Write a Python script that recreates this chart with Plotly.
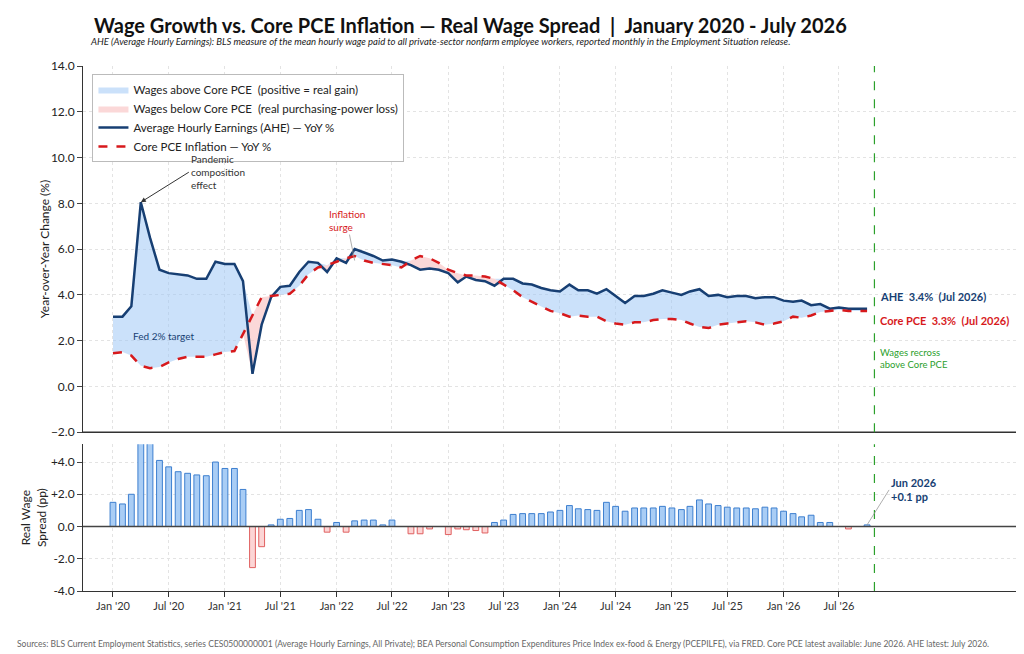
import pandas as pd
import plotly.graph_objects as go
from plotly.subplots import make_subplots

MONTHS = pd.date_range("2020-01-01", periods=82, freq="MS")

AHE = [3.05, 3.05, 3.5, 8.05, 6.5, 5.1, 4.95, 4.9, 4.85, 4.7,
       4.7, 5.45, 5.35, 5.35, 4.6, 0.55, 2.7, 3.9, 4.35, 4.4,
       5.0, 5.45, 5.4, 5.0, 5.6, 5.4, 6.0, 5.85, 5.7, 5.5,
       5.55, 5.45, 5.3, 5.1, 5.15, 5.1, 4.95, 4.55, 4.8, 4.65,
       4.6, 4.4, 4.7, 4.7, 4.5, 4.45, 4.3, 4.2, 4.15, 4.45,
       4.2, 4.2, 4.05, 4.25, 3.95, 3.65, 3.95, 3.95, 4.05, 4.2,
       4.1, 4.0, 4.15, 4.25, 3.95, 4.0, 3.9, 3.95, 3.95, 3.85,
       3.9, 3.9, 3.75, 3.7, 3.75, 3.55, 3.6, 3.4, 3.45, 3.4,
       3.4, 3.4]

PCE = [1.45, 1.5, 1.35, 0.9, 0.8, 0.85, 1.05, 1.2, 1.3, 1.3,
       1.3, 1.4, 1.5, 1.55, 2.3, 3.1, 3.9, 3.95, 4.0, 4.05,
       4.4, 4.9, 5.2, 5.3, 5.45, 5.6, 5.7, 5.5, 5.4, 5.35,
       5.3, 5.2, 5.5, 5.7, 5.6, 5.4, 5.1, 4.95, 4.85, 4.85,
       4.8, 4.7, 4.45, 4.2, 3.9, 3.7, 3.5, 3.3, 3.2, 3.05,
       3.1, 3.05, 3.05, 2.85, 2.75, 2.7, 2.8, 2.8, 2.9, 2.95,
       2.95, 2.9, 2.75, 2.6, 2.55, 2.7, 2.75, 2.8, 2.85, 2.8,
       2.7, 2.75, 2.85, 3.05, 3.0, 3.1, 3.25, 3.3, 3.35, 3.3,
       3.3, 3.3]

SPREAD = [1.5, 1.4, 2.0, 7.1, 5.7, 4.1, 3.7, 3.4, 3.3, 3.2,
          3.15, 4.0, 3.6, 3.6, 2.3, -2.55, -1.25, 0.1, 0.45, 0.5,
          1.0, 1.05, 0.45, -0.35, 0.25, -0.35, 0.35, 0.4, 0.4, 0.1,
          0.4, 0.0, -0.45, -0.45, -0.15, 0.0, -0.5, -0.15, -0.2, -0.25,
          -0.4, 0.25, 0.4, 0.75, 0.8, 0.8, 0.8, 0.9, 1.0, 1.3,
          1.1, 1.05, 1.0, 1.5, 1.25, 0.95, 1.15, 1.15, 1.15, 1.25,
          1.15, 1.05, 1.25, 1.65, 1.4, 1.3, 1.2, 1.15, 1.15, 1.1,
          1.2, 1.15, 0.95, 0.8, 0.6, 0.7, 0.25, 0.25, 0.0, -0.15,
          0.0, 0.1]

X_TICKS = pd.date_range("2020-01-01", "2026-07-01", freq="6MS")
MAIN_TICKS = [-2, 0, 2, 4, 6, 8, 10, 12, 14]
SPREAD_TICKS = [-4, -2, 0, 2, 4]
SPREAD_LABELS = ["-4.0", "-2.0", "0.0", "+2.0", "+4.0"]

NAVY = "#173f73"
RED = "#d7191c"
BLUE_FILL = "rgba(160,200,245,0.55)"
PINK_FILL = "rgba(248,190,190,0.6)"
FONT = "Lato"

upper = [max(a, p) for a, p in zip(AHE, PCE)]
lower = [min(a, p) for a, p in zip(AHE, PCE)]

fig = make_subplots(rows=2, cols=1, shared_xaxes=True, row_heights=[0.714, 0.286],
                    vertical_spacing=0.023)

fig.add_trace(go.Scatter(x=MONTHS, y=PCE, mode="lines", line=dict(width=0),
                         showlegend=False, hoverinfo="skip"), row=1, col=1)
fig.add_trace(go.Scatter(x=MONTHS, y=upper, mode="lines", line=dict(width=0),
                         fill="tonexty", fillcolor=BLUE_FILL,
                         name="Wages above Core PCE  (positive = real gain)"), row=1, col=1)
fig.add_trace(go.Scatter(x=MONTHS, y=PCE, mode="lines", line=dict(width=0),
                         showlegend=False, hoverinfo="skip"), row=1, col=1)
fig.add_trace(go.Scatter(x=MONTHS, y=lower, mode="lines", line=dict(width=0),
                         fill="tonexty", fillcolor=PINK_FILL,
                         name="Wages below Core PCE  (real purchasing-power loss)"), row=1, col=1)
fig.add_trace(go.Scatter(x=MONTHS, y=AHE, mode="lines", line=dict(color=NAVY, width=2.5),
                         name="Average Hourly Earnings (AHE) — YoY %"), row=1, col=1)
fig.add_trace(go.Scatter(x=MONTHS, y=PCE, mode="lines",
                         line=dict(color=RED, width=2.5, dash="dash"),
                         name="Core PCE Inflation — YoY %"), row=1, col=1)

bar_fill = ["#a9cdf5" if v >= 0 else "#fcd5d5" for v in SPREAD]
bar_line = ["#3d7fcf" if v >= 0 else "#e06060" for v in SPREAD]
fig.add_trace(go.Bar(x=MONTHS, y=SPREAD, marker=dict(color=bar_fill, line=dict(color=bar_line, width=1)),
                     width=1000 * 3600 * 24 * 19, showlegend=False), row=2, col=1)

grid = dict(showgrid=True, gridcolor="#e3e3e3", griddash="dot", zeroline=False)
xrange = ["2019-09-25", "2028-03-10"]
fig.update_xaxes(range=xrange, tickvals=X_TICKS, tickformat="%b '%y",
                 showline=True, linecolor="#333", ticks="outside", tickcolor="#333",
                 tickfont=dict(size=11, color="#333"), **grid)
fig.update_xaxes(showticklabels=False, ticks="", row=1, col=1)
fig.update_yaxes(range=[-2, 14], tickvals=MAIN_TICKS, ticksuffix="%", tickformat=".1f",
                 showline=True, linecolor="#333", ticks="outside",
                 title=dict(text="Year-over-Year Change (%)", font=dict(size=12)),
                 tickfont=dict(size=12), row=1, col=1, **grid)
fig.update_yaxes(range=[-4, 5.1], tickvals=SPREAD_TICKS, ticktext=SPREAD_LABELS,
                 showline=True, linecolor="#333", ticks="outside",
                 title=dict(text="Real Wage<br>Spread (pp)", font=dict(size=12)),
                 tickfont=dict(size=12), row=2, col=1, **grid)

fig.add_hline(y=0, line=dict(color="#444", width=1.5), row=2, col=1)
fig.add_hline(y=-2, line=dict(color="#333", width=1.5), row=1, col=1)
for r in (1, 2):
    fig.add_vline(x="2026-10-25", line=dict(color="#2ca02c", width=1.2, dash="dash"), row=r, col=1)

fig.add_annotation(x="2020-04-01", y=8.05, ax=48, ay=-30, text="Pandemic<br>composition<br>effect",
                   showarrow=True, arrowhead=2, arrowsize=1, arrowwidth=1, arrowcolor="#333",
                   xanchor="left", font=dict(size=10, color="#333"), align="left", row=1, col=1)
fig.add_annotation(x="2022-03-01", y=5.5, ax=-8, ay=-40, text="Inflation<br>surge",
                   showarrow=True, arrowhead=0, arrowwidth=0.8, arrowcolor="#999",
                   font=dict(size=10, color=RED), align="left", row=1, col=1)
fig.add_annotation(x="2020-03-01", y=2.2, text="Fed 2% target", showarrow=False,
                   xanchor="left", font=dict(size=10, color=NAVY), row=1, col=1)
fig.add_annotation(x="2026-11-05", y=3.95, text="<b>AHE  3.4%  (Jul 2026)</b>", showarrow=False,
                   xanchor="left", font=dict(size=11, color=NAVY), row=1, col=1)
fig.add_annotation(x="2026-11-05", y=2.9, text="<b>Core PCE  3.3%  (Jul 2026)</b>", showarrow=False,
                   xanchor="left", font=dict(size=11, color=RED), row=1, col=1)
fig.add_annotation(x="2026-11-05", y=1.2, text="Wages recross<br>above Core PCE", showarrow=False,
                   xanchor="left", align="left", font=dict(size=9.5, color="#2ca02c"), row=1, col=1)
fig.add_annotation(x="2026-10-01", y=0.1, ax=22, ay=-35, text="<b>Jun 2026<br>+0.1 pp</b>",
                   showarrow=True, arrowhead=0, arrowwidth=0.8, arrowcolor="#999", xanchor="left",
                   align="left", font=dict(size=11, color=NAVY), row=2, col=1)

fig.add_annotation(xref="paper", yref="paper", x=0.01, y=1.078, xanchor="left", yanchor="middle",
                   showarrow=False,
                   text="<b>Wage Growth vs. Core PCE Inflation — Real Wage Spread  |  January 2020 - July 2026</b>",
                   font=dict(size=20, color="#111"))
fig.add_annotation(xref="paper", yref="paper", x=0.005, y=1.046, xanchor="left", yanchor="middle",
                   showarrow=False,
                   text="<i>AHE (Average Hourly Earnings): BLS measure of the mean hourly wage paid to all private-sector nonfarm employee workers, reported monthly in the Employment Situation release.</i>",
                   font=dict(size=9.5, color="#222"))
fig.add_annotation(xref="paper", yref="paper", x=-0.072, y=-0.101, xanchor="left", yanchor="middle",
                   showarrow=False,
                   text="Sources: BLS Current Employment Statistics, series CES0500000001 (Average Hourly Earnings, All Private); BEA Personal Consumption Expenditures Price Index ex-food & Energy (PCEPILFE), via FRED. Core PCE latest available: June 2026. AHE latest: July 2026.",
                   font=dict(size=8.5, color="#666"))

fig.update_layout(
    width=1024, height=654, template="none", plot_bgcolor="white", paper_bgcolor="white",
    font=dict(family=FONT, color="#222"),
    margin=dict(l=75, r=4, t=58, b=71),
    bargap=0.2,
    legend=dict(x=0.01, y=0.985, xanchor="left", yanchor="top", bgcolor="white",
                traceorder="normal", bordercolor="#bbb", borderwidth=1,
                font=dict(size=11.5), tracegroupgap=0),
)

fig.write_html("out.html")
